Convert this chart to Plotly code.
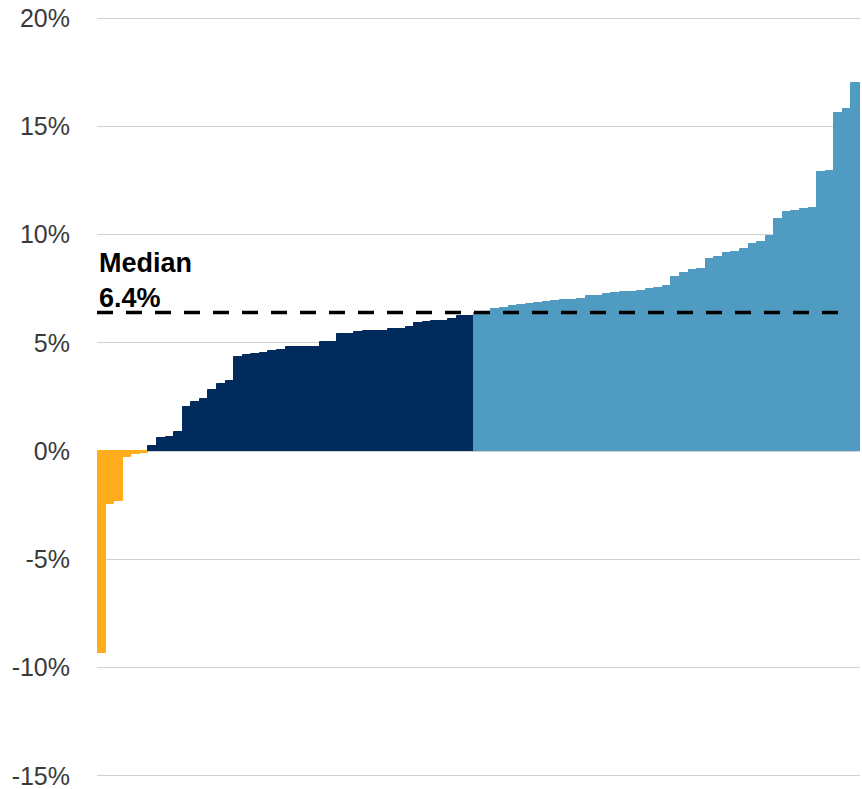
import plotly.graph_objects as go

# Sorted values (%)
values = [
    -9.34, -2.42, -2.31, -0.28, -0.14, -0.08,
    0.23, 0.60, 0.65, 0.88, 2.06, 2.28, 2.42, 2.83, 3.09, 3.26,
    4.34, 4.43, 4.49, 4.52, 4.62, 4.66, 4.81, 4.81, 4.82, 4.83,
    5.02, 5.06, 5.41, 5.43, 5.48, 5.53, 5.55, 5.56, 5.64, 5.66,
    5.74, 5.93, 5.95, 6.00, 6.02, 6.08, 6.22, 6.24,
    6.38, 6.42, 6.57, 6.59, 6.71, 6.77, 6.79, 6.85, 6.90, 6.92,
    6.96, 6.98, 7.03, 7.15, 7.17, 7.25, 7.31, 7.34, 7.36, 7.39,
    7.49, 7.54, 7.62, 8.02, 8.25, 8.38, 8.40, 8.89, 8.97, 9.16,
    9.22, 9.33, 9.55, 9.68, 9.93, 10.70, 11.05, 11.10, 11.18, 11.22,
    12.87, 12.93, 15.62, 15.82, 17.00,
]
median_label = "6.4%"
median_value = 6.4
ytick_vals = [-15, -10, -5, 0, 5, 10, 15, 20]
ytick_text = ["-15%", "-10%", "-5%", "0%", "5%", "10%", "15%", "20%"]

ORANGE = "#FFAD1D"
NAVY = "#012B5D"
LIGHT = "#4F9BC2"

srt = sorted(values)
med = srt[len(srt) // 2]
colors = [ORANGE if v < 0 else (NAVY if v < med else LIGHT) for v in values]
x = list(range(len(values)))

fig = go.Figure()
fig.add_trace(go.Bar(
    x=x, y=values,
    marker=dict(color=colors, line=dict(color=colors, width=1)),
    hoverinfo="skip",
))

fig.add_shape(
    type="line", xref="x", yref="y",
    x0=-0.5, x1=87.0, y0=median_value, y1=median_value,
    line=dict(color="black", width=3.5, dash="16px,13px"),
)

fig.add_annotation(
    xref="paper", yref="y", x=0, y=7.9,
    xanchor="left", yanchor="middle", align="left",
    text="<b>Median<br>" + median_label + "</b>",
    showarrow=False,
    font=dict(family="Liberation Sans, Arial, sans-serif", size=27, color="black"),
)

fig.update_layout(
    width=862, height=789,
    margin=dict(l=97, r=2, t=17, b=12),
    paper_bgcolor="white", plot_bgcolor="white",
    bargap=0, showlegend=False,
    font=dict(family="Liberation Sans, Arial, sans-serif"),
)
fig.update_xaxes(
    range=[-0.5, len(values) - 0.5],
    showgrid=False, showticklabels=False, zeroline=False, showline=False,
    automargin=False,
)
fig.update_yaxes(
    range=[-15.05, 20.05],
    tickvals=ytick_vals, ticktext=ytick_text,
    showgrid=True, gridcolor="#d0d0d0", gridwidth=1,
    zeroline=False, showline=False, automargin=False,
    ticks="", ticklabelstandoff=26, ticklabeloverflow="allow",
    tickfont=dict(family="Liberation Sans, Arial, sans-serif", size=25, color="#3a3a3a"),
)

fig.write_html(
    "out.html",
    config={"displayModeBar": False},
    post_script="document.body.style.margin='0';document.body.style.overflow='hidden';",
)
